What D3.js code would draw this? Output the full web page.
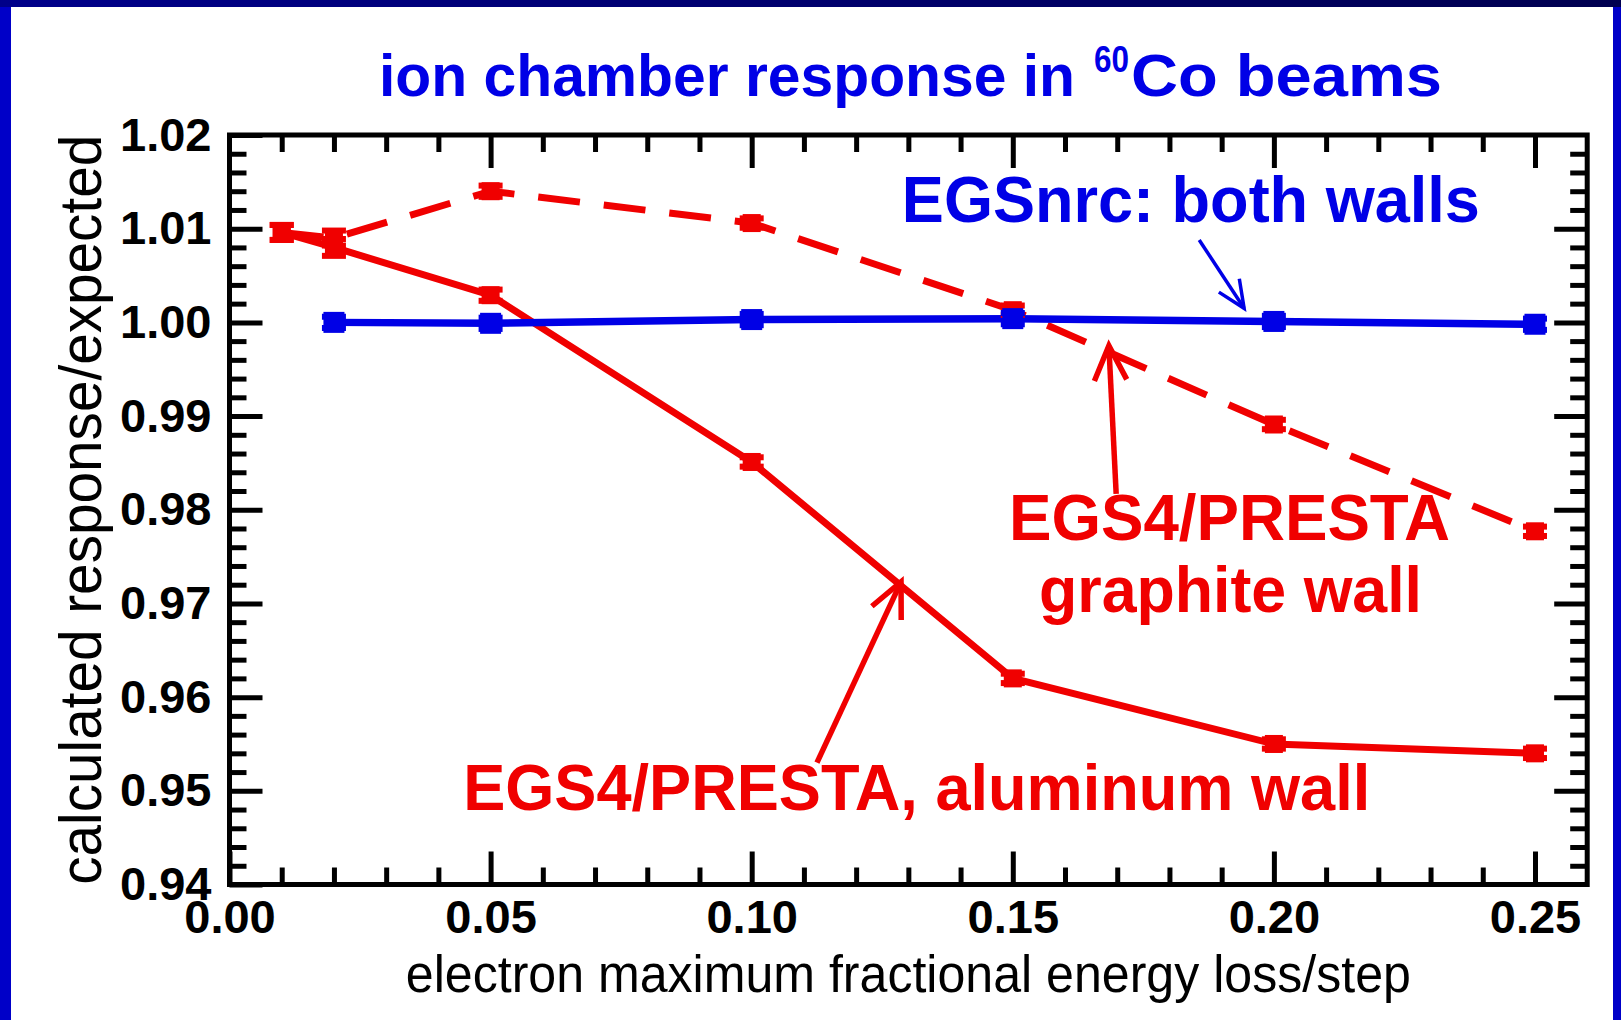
<!DOCTYPE html>
<html>
<head>
<meta charset="utf-8">
<script src="https://cdn.jsdelivr.net/npm/d3@7"></script>
<style>
  html, body { margin: 0; padding: 0; background: #ffffff; overflow: hidden; }
  svg { display: block; }
  text { font-family: "Liberation Sans", Arial, Helvetica, sans-serif; }
</style>
</head>
<body>
<svg id="chart" width="1621" height="1020"></svg>
<script>
// Maximum fractional energy loss per step (x values)
const stepFractions = [0.01, 0.02, 0.05, 0.10, 0.15, 0.20, 0.25];

// EGS4/PRESTA, aluminum wall (solid red)
const aluminumResponse = [1.0096, 1.0080, 1.0029, 0.9851, 0.9620, 0.9550, 0.9540];
const aluminumError    = [0.0008, 0.0009, 0.0006, 0.0005, 0.0005, 0.0005, 0.0005];

// EGS4/PRESTA, graphite wall (dashed red)
const graphiteResponse = [1.0096, 1.0090, 1.0140, 1.0106, 1.0013, 0.9891, 0.9777];
const graphiteError    = [0.0008, 0.0008, 0.0006, 0.0005, 0.0005, 0.0005, 0.0005];

// EGSnrc, both walls (blue)
const egsnrcSteps    = [0.02, 0.05, 0.10, 0.15, 0.20, 0.25];
const egsnrcResponse = [1.0000, 0.9999, 1.0003, 1.0004, 1.0001, 0.9998];
const egsnrcError    = [0.0006, 0.0006, 0.0006, 0.0006, 0.0006, 0.0006];

// Axis ticks
const xMajorTicks = [0.00, 0.05, 0.10, 0.15, 0.20, 0.25];
const xMinorTicks = d3.range(1, 26).map(i => i / 100).filter(v => Math.round(v * 100) % 5 !== 0);
const yMajorTicks = [0.94, 0.95, 0.96, 0.97, 0.98, 0.99, 1.00, 1.01, 1.02];
const yMinorTicks = d3.range(0, 40).map(i => 0.94 + i * 0.002).filter((v, i) => i % 5 !== 0);

// Annotation labels and arrows, placed in data units
const annotationLabels = [
  { text: "EGSnrc: both walls", x: 0.1841, y: 1.0107, color: "blue", width: 578 },
  { text: "EGS4/PRESTA", x: 0.1915, y: 0.9768, color: "red", width: 441 },
  { text: "graphite wall", x: 0.1917, y: 0.9691, color: "red", width: 383 },
  { text: "EGS4/PRESTA, aluminum wall", x: 0.1316, y: 0.9480, color: "red", width: 907 }
];
const annotationArrows = [
  { from: [0.1857, 1.0088], to: [0.1943, 1.0015], color: "blue" },
  { from: [0.1698, 0.9817], to: [0.1684, 0.9975], color: "red" },
  { from: [0.1125, 0.9530], to: [0.1286, 0.9723], color: "red" }
];

const RED = "#f00000";
const BLUE = "#0000e6";
const colorOf = c => (c === "red" ? RED : BLUE);

const svg = d3.select("#chart");
const W = 1621, H = 1020;

// Page background and slide frame
svg.append("rect").attr("width", W).attr("height", H).attr("fill", "#ffffff");
svg.append("rect").attr("x", 0).attr("y", 0).attr("width", 11).attr("height", H).attr("fill", "#0000c8");
svg.append("rect").attr("x", W - 8).attr("y", 0).attr("width", 8).attr("height", H).attr("fill", "#0000c8");
const topGrad = svg.append("defs").append("linearGradient").attr("id", "topband")
  .attr("x1", 0).attr("x2", 1).attr("y1", 0).attr("y2", 0);
topGrad.append("stop").attr("offset", "0").attr("stop-color", "#00008a");
topGrad.append("stop").attr("offset", "1").attr("stop-color", "#000050");
svg.append("rect").attr("x", 0).attr("y", 0).attr("width", W).attr("height", 7).attr("fill", "url(#topband)");

// Scales
const x = d3.scaleLinear().domain([0, 0.26]).range([229.5, 1587.2]);
const y = d3.scaleLinear().domain([0.94, 1.02]).range([884.5, 135]);

const plot = svg.append("g");

// Axes: all ticks point inward
const fmt = d3.format(".2f");
const TICK_W = 5;
function styleAxis(g) {
  g.select(".domain").remove();
  g.selectAll(".tick line").attr("stroke", "#000").attr("stroke-width", TICK_W);
  g.selectAll(".tick text")
    .attr("fill", "#000")
    .style("font-size", "47px")
    .style("font-weight", "bold")
    .style("font-family", '"Liberation Sans", Arial, Helvetica, sans-serif');
}

const x0 = x.range()[0], x1 = x.range()[1];
const y0 = y.range()[0], y1 = y.range()[1];

// bottom
plot.append("g").attr("transform", `translate(0,${y0})`)
  .call(d3.axisBottom(x).tickValues(xMajorTicks).tickSize(-33).tickPadding(15).tickFormat(fmt))
  .call(styleAxis);
plot.append("g").attr("transform", `translate(0,${y0})`)
  .call(d3.axisBottom(x).tickValues(xMinorTicks).tickSize(-17).tickFormat(""))
  .call(styleAxis);
// top
plot.append("g").attr("transform", `translate(0,${y1})`)
  .call(d3.axisTop(x).tickValues(xMajorTicks.filter(v => v > 0)).tickSize(-33).tickFormat(""))
  .call(styleAxis);
plot.append("g").attr("transform", `translate(0,${y1})`)
  .call(d3.axisTop(x).tickValues(xMinorTicks).tickSize(-17).tickFormat(""))
  .call(styleAxis);
// left
plot.append("g").attr("transform", `translate(${x0},0)`)
  .call(d3.axisLeft(y).tickValues(yMajorTicks).tickSize(-33).tickPadding(18).tickFormat(fmt))
  .call(styleAxis);
plot.append("g").attr("transform", `translate(${x0},0)`)
  .call(d3.axisLeft(y).tickValues(yMinorTicks).tickSize(-17).tickFormat(""))
  .call(styleAxis);
// right
plot.append("g").attr("transform", `translate(${x1},0)`)
  .call(d3.axisRight(y).tickValues(yMajorTicks.slice(1, -1)).tickSize(-33).tickFormat(""))
  .call(styleAxis);
plot.append("g").attr("transform", `translate(${x1},0)`)
  .call(d3.axisRight(y).tickValues(yMinorTicks).tickSize(-17).tickFormat(""))
  .call(styleAxis);

// Frame
plot.append("rect")
  .attr("x", x0).attr("y", y1).attr("width", x1 - x0).attr("height", y0 - y1)
  .attr("fill", "none").attr("stroke", "#000").attr("stroke-width", 5);

// Series lines
const line = d3.line().x(d => x(d[0])).y(d => y(d[1]));
const zip = (a, b) => a.map((v, i) => [v, b[i]]);

plot.append("path").datum(zip(stepFractions, graphiteResponse))
  .attr("d", line).attr("fill", "none").attr("stroke", RED)
  .attr("stroke-width", 7).attr("stroke-dasharray", "42,24");
plot.append("path").datum(zip(stepFractions, aluminumResponse))
  .attr("d", line).attr("fill", "none").attr("stroke", RED).attr("stroke-width", 7);
plot.append("path").datum(zip(egsnrcSteps, egsnrcResponse))
  .attr("d", line).attr("fill", "none").attr("stroke", BLUE).attr("stroke-width", 7.5);

// Markers with error bars
function drawMarkers(xs, ys, errs, color, side) {
  const g = plot.append("g").attr("fill", color);
  xs.forEach((xv, i) => {
    const cx = x(xv), top = y(ys[i] + errs[i]), bot = y(ys[i] - errs[i]);
    g.append("rect").attr("x", cx - 5).attr("y", top).attr("width", 10).attr("height", bot - top);
    g.append("rect").attr("x", cx - 12).attr("y", top - 3).attr("width", 24).attr("height", 6);
    g.append("rect").attr("x", cx - 12).attr("y", bot - 3).attr("width", 24).attr("height", 6);
    g.append("rect").attr("x", cx - side / 2).attr("y", y(ys[i]) - side / 2)
      .attr("width", side).attr("height", side);
  });
}
drawMarkers(stepFractions, graphiteResponse, graphiteError, RED, 18);
drawMarkers(stepFractions, aluminumResponse, aluminumError, RED, 18);
drawMarkers(egsnrcSteps, egsnrcResponse, egsnrcError, BLUE, 21);

// Arrows
annotationArrows.forEach(a => {
  const sx = x(a.from[0]), sy = y(a.from[1]);
  const tx = x(a.to[0]), ty = y(a.to[1]);
  const ang = Math.atan2(ty - sy, tx - sx);
  const isBlue = a.color === "blue";
  const L = isBlue ? 30 : 38, half = isBlue ? 0.42 : 0.44;
  const sw = isBlue ? 3.5 : 5.5;
  const g = plot.append("g").attr("stroke", colorOf(a.color)).attr("stroke-width", sw)
    .attr("fill", "none").attr("stroke-linecap", "butt");
  g.append("line").attr("x1", sx).attr("y1", sy).attr("x2", tx).attr("y2", ty);
  const w1 = [tx - L * Math.cos(ang - half), ty - L * Math.sin(ang - half)];
  const w2 = [tx - L * Math.cos(ang + half), ty - L * Math.sin(ang + half)];
  g.append("polyline").attr("points", `${w1[0]},${w1[1]} ${tx},${ty} ${w2[0]},${w2[1]}`)
    .attr("stroke-linejoin", "miter");
});

// Annotation labels
annotationLabels.forEach(l => {
  plot.append("text")
    .attr("x", x(l.x)).attr("y", y(l.y))
    .attr("text-anchor", "middle")
    .attr("fill", colorOf(l.color))
    .attr("textLength", l.width).attr("lengthAdjust", "spacingAndGlyphs")
    .style("font-size", "64px").style("font-weight", "bold")
    .text(l.text);
});

// Title
const title = svg.append("g").attr("fill", BLUE).style("font-weight", "bold");
title.append("text").attr("x", 379).attr("y", 96)
  .attr("textLength", 696).attr("lengthAdjust", "spacingAndGlyphs")
  .style("font-size", "60px").text("ion chamber response in");
title.append("text").attr("x", 1094).attr("y", 72)
  .attr("textLength", 35).attr("lengthAdjust", "spacingAndGlyphs")
  .style("font-size", "37px").text("60");
title.append("text").attr("x", 1131).attr("y", 96)
  .attr("textLength", 311).attr("lengthAdjust", "spacingAndGlyphs")
  .style("font-size", "60px").text("Co beams");

// Axis titles
svg.append("text")
  .attr("x", (x0 + x1) / 2).attr("y", 992)
  .attr("text-anchor", "middle").attr("fill", "#000")
  .attr("textLength", 1005).attr("lengthAdjust", "spacingAndGlyphs")
  .style("font-size", "51px")
  .text("electron maximum fractional energy loss/step");

svg.append("text")
  .attr("transform", `translate(101,${(y0 + y1) / 2}) rotate(-90)`)
  .attr("text-anchor", "middle").attr("fill", "#000")
  .attr("textLength", 750).attr("lengthAdjust", "spacingAndGlyphs")
  .style("font-size", "60px")
  .text("calculated response/expected");
</script>
</body>
</html>
